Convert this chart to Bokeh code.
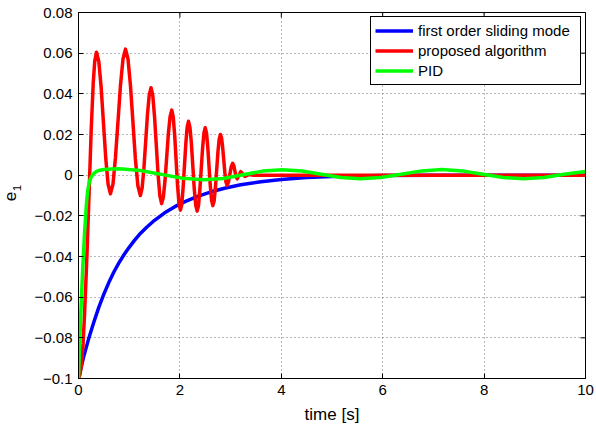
import math
from bokeh.plotting import figure
from bokeh.models import (Range1d, FixedTicker, Legend, LegendItem, Label)
from bokeh.embed import file_html
from bokeh.resources import INLINE

# ---------------- data ----------------
blue_t = [0.0, 0.1, 0.2, 0.3, 0.4, 0.5, 0.6, 0.7, 0.8, 0.9, 1.0, 1.1, 1.2, 1.35,
          1.5, 1.7, 1.9, 2.1, 2.35, 2.6, 2.9, 3.2, 3.6, 4.0, 4.5, 5.0, 5.5, 6.0,
          7.0, 8.0, 10.0]
blue_v = [-0.100, -0.0895, -0.0805, -0.0725, -0.0650, -0.0585, -0.0527, -0.0475,
          -0.0430, -0.0390, -0.0355, -0.0322, -0.0292, -0.0255, -0.0222, -0.0185,
          -0.0155, -0.0130, -0.0104, -0.0083, -0.0063, -0.0047, -0.0032, -0.0021,
          -0.0012, -0.0007, -0.0004, -0.0002, -0.0001, 0.0, 0.0]

red_t = [0.0, 0.03, 0.06, 0.09, 0.12, 0.15, 0.17, 0.21, 0.25, 0.29, 0.32, 0.355,
         0.401, 0.447, 0.4925, 0.538, 0.584, 0.63,
         0.680, 0.729, 0.779, 0.828, 0.878, 0.927,
         0.976, 1.025, 1.074, 1.122, 1.171, 1.22,
         1.255, 1.29, 1.325, 1.36, 1.395, 1.43,
         1.465, 1.50, 1.535, 1.57, 1.605, 1.64,
         1.673, 1.707, 1.74, 1.773, 1.807, 1.84,
         1.868, 1.897, 1.925, 1.953, 1.982, 2.01,
         2.037, 2.063, 2.09, 2.117, 2.143, 2.17,
         2.198, 2.227, 2.255, 2.283, 2.312, 2.34,
         2.367, 2.393, 2.42, 2.447, 2.473, 2.50,
         2.525, 2.55, 2.575, 2.60, 2.625, 2.65,
         2.675, 2.70, 2.725, 2.75, 2.775, 2.80,
         2.822, 2.843, 2.865, 2.887, 2.908, 2.93,
         2.958, 2.985, 3.013, 3.04,
         3.063, 3.085, 3.108, 3.13,
         3.165, 3.20, 3.24, 3.28, 3.36, 3.45, 10.0]
red_v = [-0.100, -0.098, -0.093, -0.083, -0.068, -0.050, -0.037, -0.008, 0.022, 0.045, 0.056, 0.0605,
         0.0558, 0.0431, 0.0256, 0.0082, -0.0045, -0.0092,
         -0.0044, 0.0086, 0.0264, 0.0442, 0.0572, 0.0620,
         0.0572, 0.0440, 0.0260, 0.0080, -0.0052, -0.0100,
         -0.0064, 0.0033, 0.0165, 0.0298, 0.0394, 0.0430,
         0.0392, 0.0287, 0.0145, 0.0002, -0.0102, -0.0140,
         -0.0109, -0.0025, 0.0090, 0.0205, 0.0289, 0.0320,
         0.0287, 0.0197, 0.0074, -0.0049, -0.0139, -0.0172,
         -0.0143, -0.0063, 0.0047, 0.0156, 0.0236, 0.0265,
         0.0235, 0.0155, 0.0044, -0.0067, -0.0147, -0.0177,
         -0.0150, -0.0074, 0.0028, 0.0131, 0.0206, 0.0233,
         0.0207, 0.0137, 0.0041, -0.0054, -0.0124, -0.0150,
         -0.0127, -0.0062, 0.0025, 0.0113, 0.0177, 0.0200,
         0.0183, 0.0137, 0.0075, 0.0012, -0.0033, -0.0050,
         -0.0034, 0.0004, 0.0042, 0.0058,
         0.0047, 0.0020, -0.0007, -0.0018,
         0.0000, 0.0018, 0.0006, -0.0006, 0.0003, 0.0000, 0.0000]

green_t = [0.0, 0.02, 0.05, 0.085, 0.12, 0.16, 0.18, 0.20, 0.22, 0.24, 0.27, 0.30,
           0.34, 0.40, 0.50, 0.65, 0.80, 1.22, 1.635, 2.05, 2.47, 2.858, 3.245,
           3.633, 4.02, 4.405, 4.79, 5.175, 5.56, 5.963, 6.365, 6.768, 7.17,
           7.573, 7.975, 8.378, 8.78, 9.18, 9.58, 10.0]
green_v = [-0.100, -0.085, -0.065, -0.045, -0.028, -0.013, -0.008, -0.005, -0.0028,
           -0.0015, -0.0002, 0.0008, 0.0016, 0.0023, 0.0028, 0.0030, 0.0031, 0.0023,
           0.0004, -0.0015, -0.0023, -0.0016, 0.0002, 0.0020, 0.0027, 0.0020, 0.00045,
           -0.0011, -0.0018, -0.0011, 0.0005, 0.0021, 0.0028, 0.0021, 0.0005, -0.0011,
           -0.0018, -0.0011, 0.0005, 0.0018]

series_names = ["first order sliding mode", "proposed algorithm", "PID"]
series_colors = ["#0000FF", "#FF0000", "#00FF00"]

x_ticks = [0, 2, 4, 6, 8, 10]
x_tick_labels = ["0", "2", "4", "6", "8", "10"]
y_ticks = [-0.1, -0.08, -0.06, -0.04, -0.02, 0, 0.02, 0.04, 0.06, 0.08]
y_tick_labels = ["\u22120.1", "\u22120.08", "\u22120.06", "\u22120.04", "\u22120.02",
                 "0", "0.02", "0.04", "0.06", "0.08"]
x_label = "time [s]"
y_label_main = "e"
y_label_sub = "1"

FONT = "Liberation Sans"
x_lo, x_hi = x_ticks[0], x_ticks[-1]
y_lo, y_hi = y_ticks[0], y_ticks[-1]

# ---------------- figure ----------------
p = figure(width=596, height=426, output_backend="svg", toolbar_location=None,
           x_range=Range1d(x_lo, x_hi), y_range=Range1d(y_lo, y_hi),
           min_border_left=78, min_border_right=11, min_border_top=12, min_border_bottom=48,
           background_fill_color="white", border_fill_color="white")
p.outline_line_color = "black"
p.outline_line_width = 1
p.outline_line_alpha = 1

# bottom / left axes
xa = p.xaxis[0]
ya = p.yaxis[0]
xa.ticker = FixedTicker(ticks=x_ticks)
ya.ticker = FixedTicker(ticks=y_ticks)
xa.major_label_overrides = {t: l for t, l in zip(x_ticks, x_tick_labels)}
ya.major_label_overrides = {t: l for t, l in zip(y_ticks, y_tick_labels)}
for ax in (xa, ya):
    ax.major_tick_in = 5
    ax.major_tick_out = 0
    ax.minor_tick_line_color = None
    ax.axis_line_color = "black"
    ax.major_tick_line_color = "black"
    ax.major_label_text_font = FONT
    ax.major_label_text_font_size = "15px"
    ax.major_label_text_color = "black"
    ax.major_label_standoff = 6
    ax.axis_label_text_font = FONT
    ax.axis_label_text_font_style = "normal"
    ax.axis_label_text_color = "black"
xa.axis_label = x_label
xa.axis_label_text_font_size = "17px"
xa.axis_label_standoff = 7

# y label "e" with subscript "1", placed in the left border panel (screen units)
p.add_layout(Label(x=-10, y=182, x_units="screen", y_units="screen",
                   text=y_label_main, angle=math.pi / 2,
                   text_align="center", text_baseline="middle",
                   text_font=FONT, text_font_size="17px", text_color="black"), "left")
p.add_layout(Label(x=5, y=190.5, x_units="screen", y_units="screen",
                   text=y_label_sub, angle=math.pi / 2,
                   text_align="center", text_baseline="middle",
                   text_font=FONT, text_font_size="11px", text_color="black"), "left")

# grid
for g in (p.xgrid[0], p.ygrid[0]):
    g.grid_line_color = "black"
    g.grid_line_alpha = 0.55
    g.grid_line_dash = "1 3"
    g.grid_line_width = 1

# inward ticks on the top and right edges of the box (clipped to the frame)
p.scatter(x=x_ticks, y=[y_hi] * len(x_ticks), marker="dash", angle=math.pi / 2,
          size=10, line_color="black", line_width=1)
p.scatter(x=[x_hi] * len(y_ticks), y=y_ticks, marker="dash",
          size=10, line_color="black", line_width=1)

# lines
r_blue = p.line(blue_t, blue_v, line_color=series_colors[0], line_width=3.5, line_join="round")
r_red = p.line(red_t, red_v, line_color=series_colors[1], line_width=3.5, line_join="round")
r_green = p.line(green_t, green_v, line_color=series_colors[2], line_width=3.5, line_join="round")

legend = Legend(items=[LegendItem(label=n, renderers=[r]) for n, r in
                       zip(series_names, [r_blue, r_red, r_green])],
                location="top_right")
legend.label_text_font = FONT
legend.label_text_font_size = "15px"
legend.label_text_color = "black"
legend.border_line_color = "black"
legend.border_line_width = 1
legend.border_line_alpha = 1
legend.background_fill_color = "white"
legend.background_fill_alpha = 1
legend.glyph_width = 38
legend.glyph_height = 19
legend.label_height = 19
legend.label_width = 158
legend.label_standoff = 5
legend.spacing = 1
legend.padding = 4
legend.margin = 4
p.add_layout(legend, "center")

open("out.html", "w").write(file_html(p, INLINE))
